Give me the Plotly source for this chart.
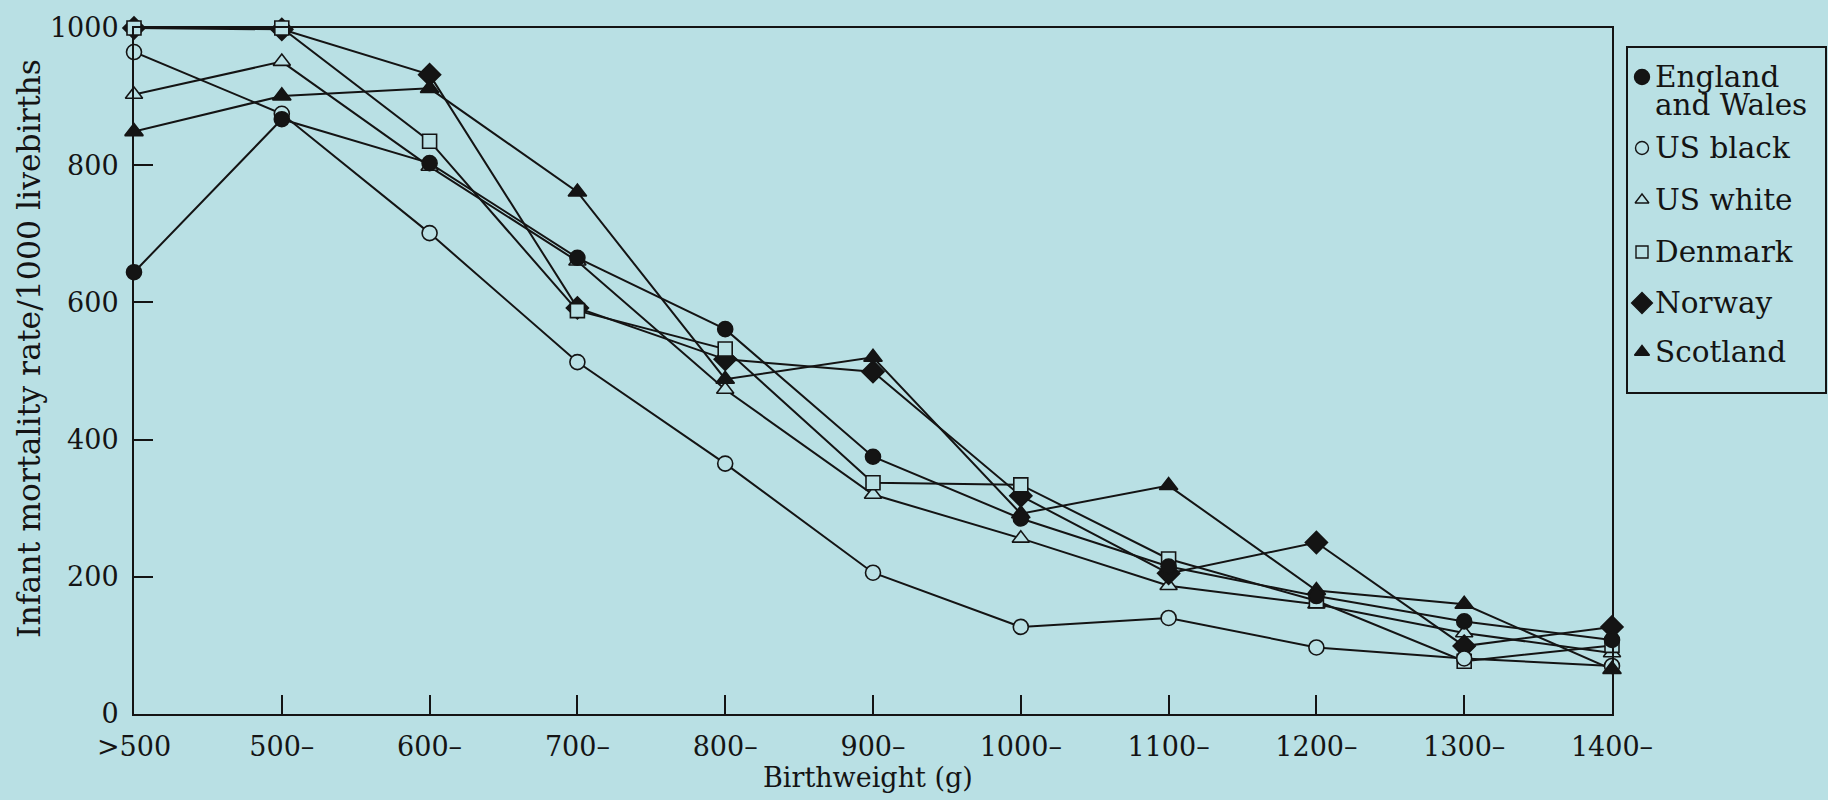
import plotly.graph_objects as go

# Birthweight bands and infant mortality rate per 1000 livebirths
categories = [">500", "500–", "600–", "700–", "800–", "900–",
              "1000–", "1100–", "1200–", "1300–", "1400–"]

england_wales = [644, 867, 803, 665, 561, 375, 285, 215, 172, 135, 108]
us_black = [965, 875, 701, 513, 365, 206, 127, 140, 97, 81, 70]
us_white = [903, 951, 798, 660, 473, 320, 256, 187, 160, 118, 89]
denmark = [1000, 1000, 835, 588, 532, 337, 334, 226, 165, 77, 100]
norway = [1000, 998, 932, 592, 517, 499, 318, 205, 250, 99, 127]
scotland = [849, 901, 912, 761, 488, 520, 292, 333, 180, 160, 65]

y_ticks = [0, 200, 400, 600, 800, 1000]

BG = "#b9e0e4"
INK = "#141414"
FONT = "DejaVu Serif"
W, H = 1828, 800

# drawing order: later series sit on top
series = [
    ("US white", us_white, "triangle-up", 15, BG),
    ("Norway", norway, "diamond", 17, INK),
    ("Denmark", denmark, "square", 14, BG),
    ("US black", us_black, "circle", 15, BG),
    ("Scotland", scotland, "triangle-up", 16, INK),
    ("England and Wales", england_wales, "circle", 15, INK),
]

fig = go.Figure()

# connecting lines first so markers stay above every line
for name, vals, sym, size, fill in series:
    fig.add_trace(go.Scatter(
        x=categories, y=vals, mode="lines", name=name, showlegend=False,
        line=dict(color=INK, width=2), cliponaxis=False, hoverinfo="skip"))

for name, vals, sym, size, fill in series:
    fig.add_trace(go.Scatter(
        x=categories, y=vals, mode="markers", name=name, showlegend=False,
        marker=dict(symbol=sym, size=size, color=fill, opacity=1,
                    line=dict(color=INK, width=1.6)),
        cliponaxis=False))

# plot area in page pixels
left, right, top, bottom = 134, 1612, 28, 714

# legend drawn on a full-page pixel overlay
legend_rows = [
    ("England", 77, "circle", 15, INK),
    ("US black", 148, "circle", 13, BG),
    ("US white", 200, "triangle-up", 12, BG),
    ("Denmark", 252, "square", 12, BG),
    ("Norway", 303, "diamond", 16, INK),
    ("Scotland", 352, "triangle-up", 13, INK),
]
fig.add_trace(go.Scatter(
    x=[1642] * len(legend_rows), y=[r[1] for r in legend_rows],
    mode="markers", xaxis="x2", yaxis="y2", showlegend=False,
    marker=dict(symbol=[r[2] for r in legend_rows],
                size=[r[3] for r in legend_rows],
                color=[r[4] for r in legend_rows], opacity=1,
                line=dict(color=INK, width=1.4)),
    cliponaxis=False, hoverinfo="skip"))

annotations = []
for label, y, *_ in legend_rows:
    annotations.append(dict(x=1653, y=y, xref="x2", yref="y2", text=label,
                            showarrow=False, xanchor="left", yanchor="middle",
                            font=dict(family=FONT, size=29.5, color=INK)))
annotations.append(dict(x=1653, y=105, xref="x2", yref="y2", text="and Wales",
                        showarrow=False, xanchor="left", yanchor="middle",
                        font=dict(family=FONT, size=29.5, color=INK)))
annotations.append(dict(x=29, y=349, xref="x2", yref="y2",
                        text="Infant mortality rate/1000 livebirths",
                        textangle=-90, showarrow=False,
                        xanchor="center", yanchor="middle",
                        font=dict(family=FONT, size=31.5, color=INK)))
annotations.append(dict(x=868, y=777, xref="x2", yref="y2",
                        text="Birthweight (g)", showarrow=False,
                        xanchor="center", yanchor="middle",
                        font=dict(family=FONT, size=27, color=INK)))

shapes = [dict(type="rect", xref="x2", yref="y2", x0=1627, x1=1826,
               y0=47, y1=393, line=dict(color=INK, width=2),
               fillcolor="rgba(0,0,0,0)", layer="above")]

axis_common = dict(showline=True, mirror=True, linecolor=INK, linewidth=2,
                   ticks="inside", ticklen=19, tickwidth=1.5, tickcolor=INK,
                   showgrid=False, zeroline=False, automargin=False,
                   tickfont=dict(family=FONT, size=27, color=INK))

fig.update_layout(
    template="none",
    width=W, height=H, autosize=False,
    margin=dict(l=0, r=0, t=0, b=0, pad=0),
    paper_bgcolor=BG, plot_bgcolor="rgba(0,0,0,0)", showlegend=False,
    font=dict(family=FONT, color=INK),
    xaxis=dict(type="category", categoryorder="array",
               categoryarray=categories, range=[0, 10],
               domain=[left / W, right / W], ticklabelstandoff=8,
               **axis_common),
    yaxis=dict(range=[0, 1000], tickvals=y_ticks,
               domain=[(H - bottom) / H, (H - top) / H],
               ticklabelstandoff=8, **axis_common),
    xaxis2=dict(domain=[0, 1], range=[0, W], visible=False,
                anchor="y2", automargin=False),
    yaxis2=dict(domain=[0, 1], range=[H, 0], visible=False,
                anchor="x2", automargin=False),
    annotations=annotations, shapes=shapes,
)

fig.write_html("out.html")
